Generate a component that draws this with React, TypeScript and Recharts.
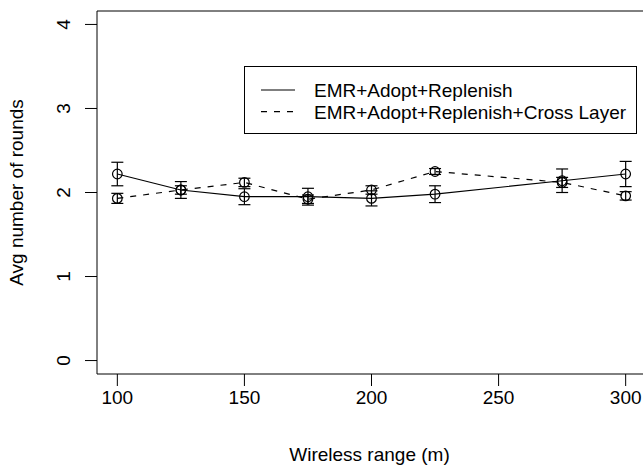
import React from 'react';
import { LineChart, Line, XAxis, YAxis, ErrorBar, ReferenceArea, Legend } from 'recharts';

const xValues = [100, 125, 150, 175, 200, 225, 275, 300];
const seriesNames = ['EMR+Adopt+Replenish', 'EMR+Adopt+Replenish+Cross Layer'];
const basicValues = [2.22, 2.03, 1.95, 1.95, 1.93, 1.98, 2.14, 2.22];
const basicErrors = [0.14, 0.1, 0.095, 0.1, 0.09, 0.1, 0.14, 0.15];
const crossValues = [1.93, 2.03, 2.12, 1.92, 2.03, 2.25, 2.12, 1.96];
const crossErrors = [0.06, 0.05, 0.05, 0.05, 0.05, 0.035, 0.06, 0.05];
const xTicks = [100, 150, 200, 250, 300];
const yTicks = [0, 1, 2, 3, 4];
const xDomain = [92, 308];
const yDomain = [-0.16, 4.16];

const data = xValues.map((x, i) => ({
  x,
  basic: basicValues[i],
  basicErr: basicErrors[i],
  cross: crossValues[i],
  crossErr: crossErrors[i],
}));

const FONT = '"Liberation Sans", Arial, Helvetica, sans-serif';
const FS = 19;
const DASH = '6 7';

const YTick = (props: any) => {
  const { x, y, payload } = props;
  return (
    <text x={x} y={y} transform={`rotate(-90 ${x} ${y})`} textAnchor="middle" fontSize={FS} fontFamily={FONT} fill="#000">
      {payload.value}
    </text>
  );
};

const XTick = (props: any) => {
  const { x, y, payload } = props;
  return (
    <text x={x} y={y + 13.5} textAnchor="middle" fontSize={FS} fontFamily={FONT} fill="#000">
      {payload.value}
    </text>
  );
};

const renderLegend = () => (
  <svg width={393} height={68} style={{ display: 'block' }}>
    <rect x={0.5} y={0.5} width={392} height={67} fill="#fff" stroke="#000" strokeWidth={1} />
    <line x1={17} x2={51} y1={24} y2={24} stroke="#000" strokeWidth={1.2} />
    <text x={70} y={30.8} fontSize={FS} fontFamily={FONT} fill="#000">{seriesNames[0]}</text>
    <line x1={17} x2={51} y1={45.7} y2={45.7} stroke="#000" strokeWidth={1.2} strokeDasharray={DASH} />
    <text x={70} y={52.5} fontSize={FS} fontFamily={FONT} fill="#000">{seriesNames[1]}</text>
  </svg>
);

export default function App() {
  return (
    <div style={{ position: 'absolute', left: 0, top: 0, width: 643, height: 466, overflow: 'hidden', background: '#fff' }}>
      <LineChart width={646} height={466} data={data} margin={{ top: 11, right: 0, bottom: 0, left: 0 }}>
        <XAxis
          dataKey="x"
          type="number"
          domain={xDomain}
          ticks={xTicks}
          allowDataOverflow
          height={92}
          axisLine={false}
          tickSize={12}
          tickMargin={4}
          tickLine={{ stroke: '#000', strokeWidth: 1 }}
          tick={<XTick />}
          label={{
            content: (p: any) => {
              const vb = p.viewBox;
              return (
                <text x={vb.x + vb.width / 2 - 2} y={vb.y + vb.height - 5} textAnchor="middle" fontSize={FS} fontFamily={FONT} fill="#000">
                  Wireless range (m)
                </text>
              );
            },
          }}
        />
        <YAxis
          type="number"
          domain={yDomain}
          ticks={yTicks}
          allowDataOverflow
          width={97}
          axisLine={false}
          tickSize={12}
          tickMargin={15}
          tickLine={{ stroke: '#000', strokeWidth: 1 }}
          tick={<YTick />}
          label={{
            content: (p: any) => {
              const vb = p.viewBox;
              const lx = vb.x + 22.7;
              const ly = vb.y + vb.height / 2;
              return (
                <text x={lx} y={ly} transform={`rotate(-90 ${lx} ${ly})`} textAnchor="middle" fontSize={FS} fontFamily={FONT} fill="#000">
                  Avg number of rounds
                </text>
              );
            },
          }}
        />
        <ReferenceArea x1={xDomain[0]} x2={xDomain[1]} y1={yDomain[0]} y2={yDomain[1]} fill="none" stroke="#000" strokeWidth={1} ifOverflow="visible" />
        <Line
          dataKey="basic"
          type="linear"
          stroke="#000"
          strokeWidth={1.2}
          dot={{ r: 4.8, fill: 'none', stroke: '#000', strokeWidth: 1.2 }}
          activeDot={false}
          isAnimationActive={false}
        >
          <ErrorBar dataKey="basicErr" width={6} stroke="#000" strokeWidth={1.2} direction="y" isAnimationActive={false} />
        </Line>
        <Line
          dataKey="cross"
          type="linear"
          stroke="#000"
          strokeWidth={1.2}
          strokeDasharray={DASH}
          dot={{ r: 4.8, fill: 'none', stroke: '#000', strokeWidth: 1.2, strokeDasharray: '' }}
          activeDot={false}
          isAnimationActive={false}
        >
          <ErrorBar dataKey="crossErr" width={6} stroke="#000" strokeWidth={1.2} direction="y" isAnimationActive={false} />
        </Line>
        <Legend
          layout="horizontal"
          verticalAlign="middle"
          align="center"
          content={renderLegend}
          wrapperStyle={{ position: 'absolute', left: 244, top: 66, width: 393, height: 68 }}
        />
      </LineChart>
    </div>
  );
}
